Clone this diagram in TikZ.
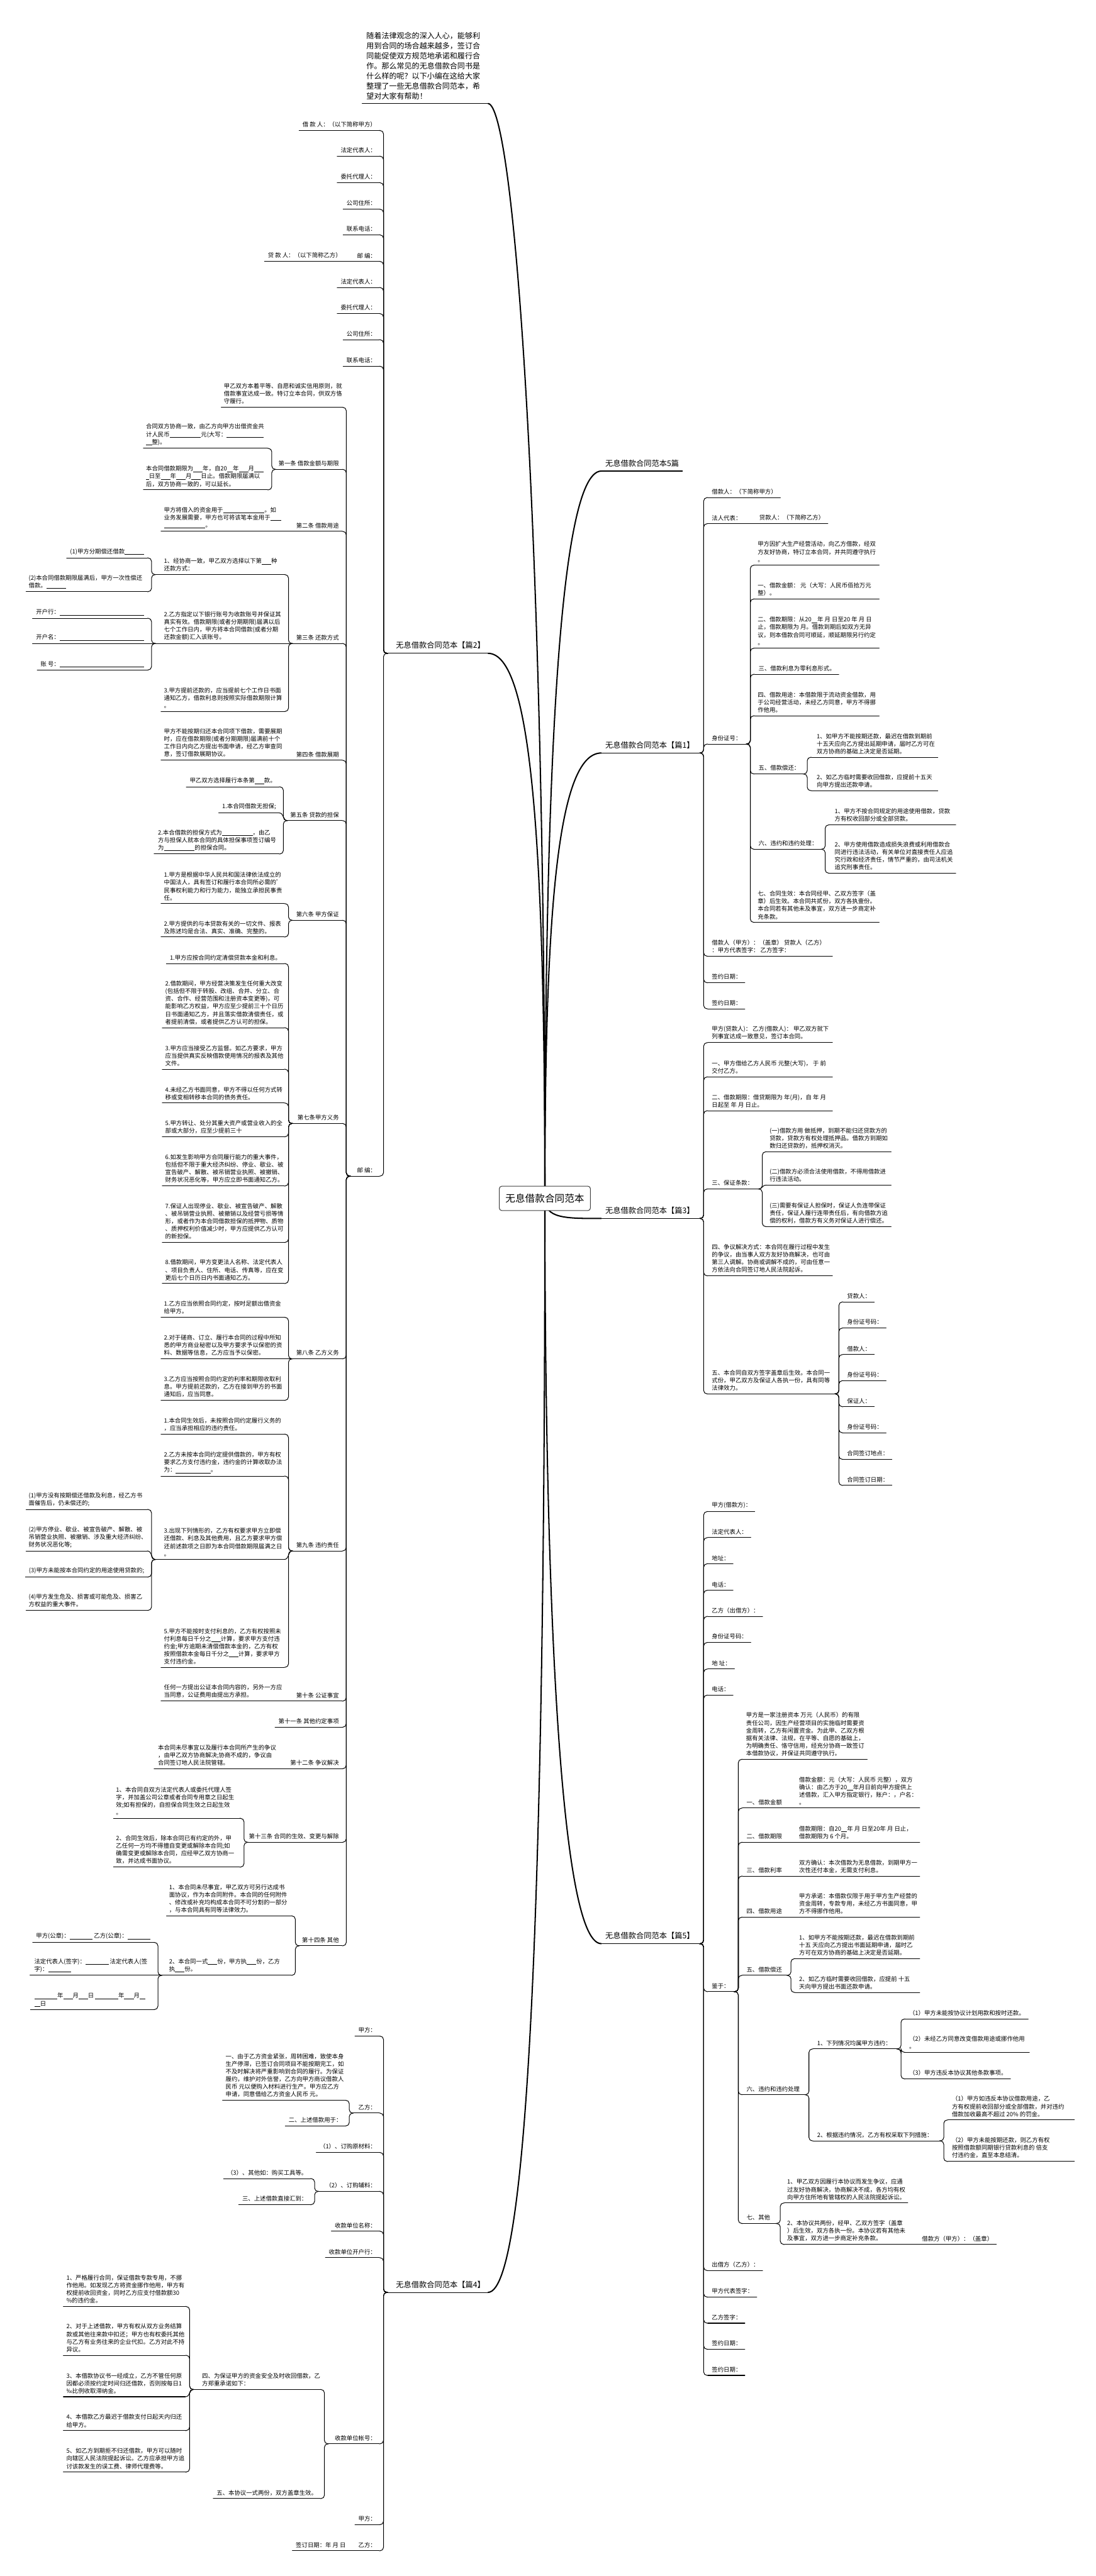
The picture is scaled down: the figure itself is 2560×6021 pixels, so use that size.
\documentclass[tikz,border=0pt]{standalone}
\usepackage{fontspec}
\setmainfont{Noto Sans CJK SC}
\newcommand\blank[1]{\rule[-2bp]{#1}{0.9bp}}
\tikzset{
  txt/.style={font=\fontsize{13.8bp}{17.8bp}\selectfont, inner sep=0pt, align=left, text=black},
  br/.style={font=\fontsize{18bp}{22bp}\selectfont, inner sep=0pt, align=left, yshift=3bp},
  intro/.style={font=\fontsize{17.7bp}{23.6bp}\selectfont, inner sep=0pt, align=left, yshift=2bp},
  ul/.style={line width=1.5bp, line cap=round},
  conn/.style={line width=1.5bp, rounded corners=8bp},
  mainc/.style={line width=3bp},
}
\newcommand\NM[7][txt]{%
  \node[#1,anchor=south west] (#2) at (#6,#5-7) {#7};
  \coordinate (#2-l) at (#3,#5);
  \coordinate (#2-r) at (#4,#5);
  \draw[ul] (#2-l) -- (#2-r);}
\newcommand\LP[6][txt]{%
  \node[#1,anchor=south east] (#2) at (#4-7,#5-7) {#6};
  \coordinate (#2-l) at (#3,#5);
  \coordinate (#2-r) at (#4,#5);
  \draw[ul] (#2-l) -- (#2-r);}
\newcommand\RP[6][txt]{%
  \node[#1,anchor=south west] (#2) at (#3+9,#5-7) {#6};
  \coordinate (#2-l) at (#3,#5);
  \coordinate (#2-r) at (#4,#5);
  \draw[ul] (#2-l) -- (#2-r);}
\newcommand\LL[5][txt]{%
  \node[#1,anchor=south east] (#2) at (#3-7,#4-7) {#5};
  \coordinate (#2-r) at (#3,#4);
  \path (#2.west) ++(-8,0) coordinate (#2-t);
  \coordinate (#2-l) at (#2-t |- #2-r);
  \draw[ul] (#2-l) -- (#2-r);}
\newcommand\RL[5][txt]{%
  \node[#1,anchor=south west] (#2) at (#3+9,#4-7) {#5};
  \coordinate (#2-l) at (#3,#4);
  \path (#2.east) ++(8,0) coordinate (#2-t);
  \coordinate (#2-r) at (#2-t |- #2-l);
  \draw[ul] (#2-l) -- (#2-r);}
\newcommand\LC[2]{\draw[conn] (#1-l) -- ++(-10,0) |- (#2-r);}
\newcommand\RC[2]{\draw[conn] (#1-r) -- ++(10,0) |- (#2-l);}
\newcommand\LS[2]{\draw[ul] (#1-l) .. controls +(-12,0) and +(12,0) .. (#2-r);}
\newcommand\RS[2]{\draw[ul] (#1-r) .. controls +(12,0) and +(-12,0) .. (#2-l);}
\newcommand\LA[2]{\draw[ul] (#1-l) -- (#2-r);}
\newcommand\RA[2]{\draw[ul] (#1-r) -- (#2-l);}
\begin{document}
\begin{tikzpicture}[x=1bp,y=-1bp]
\useasboundingbox (0,0) rectangle (2560,6021);
\fill[white] (0,0) rectangle (2560,6021);

% ---------- intro ----------
\NM[intro]{intro}{846}{1140}{242}{856}{随着法律观念的深入人心，能够利\\用到合同的场合越来越多，签订合\\同能促使双方规范地承诺和履行合\\作。那么常见的无息借款合同书是\\什么样的呢？以下小编在这给大家\\整理了一些无息借款合同范本，希\\望对大家有帮助！}

% ---------- branch labels ----------
\RL[br]{R0}{1405}{1101}{无息借款合同范本5篇}
\RP[br]{P1}{1405}{1634}{1760}{无息借款合同范本【篇1】}
\NM[br]{P2}{906}{1140}{1527}{925}{无息借款合同范本【篇2】}
\RP[br]{P3}{1405}{1634}{2848}{无息借款合同范本【篇3】}
\NM[br]{P4}{906}{1140}{5358}{925}{无息借款合同范本【篇4】}
\RP[br]{P5}{1405}{1634}{4543}{无息借款合同范本【篇5】}

% ---------- root and main curves ----------
\coordinate (rootc) at (1273,2801);
\draw[mainc] (rootc) .. controls (1273,1200) and (1200,242) .. (intro-r);
\draw[mainc] (rootc) .. controls (1273,1900) and (1300,1101) .. (R0-l);
\draw[mainc] (rootc) .. controls (1273,2150) and (1300,1760) .. (P1-l);
\draw[mainc] (rootc) .. controls (1273,1950) and (1240,1527) .. (P2-r);
\draw[mainc] (rootc) .. controls (1273,2848) and (1320,2848) .. (P3-l);
\draw[mainc] (rootc) .. controls (1273,3600) and (1300,4543) .. (P5-l);
\draw[mainc] (rootc) .. controls (1273,4300) and (1240,5358) .. (P4-r);
\node[draw=black!75, line width=1.5bp, rounded corners=6bp, fill=white, minimum width=213bp, minimum height=57bp, inner sep=0pt, font=\fontsize{23bp}{27bp}\selectfont] (root) at (rootc) {无息借款合同范本};

% ================= 篇2 (left top) =================
\LL{a1}{886}{305}{借 款 人：（以下简称甲方）}
\LL{a2}{886}{365}{法定代表人：}
\LL{a3}{886}{427}{委托代理人：}
\LL{a4}{886}{489}{公司住所：}
\LL{a5}{886}{549}{联系电话：}
\LP{a6}{825}{886}{611}{邮 编：}
\LL{a6c}{805}{611}{贷 款 人：（以下简称乙方）}
\LL{a7}{886}{672}{法定代表人：}
\LL{a8}{886}{733}{委托代理人：}
\LL{a9}{886}{794}{公司住所：}
\LL{a10}{886}{856}{联系电话：}
\LP{a11}{819}{886}{2749}{邮 编：}
\LC{P2}{a1}\LC{P2}{a2}\LC{P2}{a3}\LC{P2}{a4}\LC{P2}{a5}\LC{P2}{a6}
\LC{P2}{a7}\LC{P2}{a8}\LC{P2}{a9}\LC{P2}{a10}\LC{P2}{a11}
\LA{a6}{a6c}

\NM{b0}{517}{799}{952}{523}{甲乙双方本着平等、自愿和诚实信用原则，就\\借款事宜达成一致。特订立本合同，供双方恪\\守履行。}
\LP{b1}{645}{799}{1097}{第一条 借款金额与期限}
\NM{c1a}{335}{625}{1048}{341}{合同双方协商一致，由乙方向甲方出借资金共\\计人民币\blank{5.3em}元(大写：\blank{6.3em}\\\blank{1em}整)。}
\NM{c1b}{335}{625}{1145}{341}{本合同借款期限为\blank{1.6em}年，自20\blank{1em}年\blank{1.6em}月\blank{1.6em}\\\blank{0.5em}日至\blank{1.6em}年\blank{1.6em}月\blank{1.6em}日止。借款期限届满以\\后，双方协商一致的，可以延长。}
\LC{b1}{c1a}\LC{b1}{c1b}

\LP{b2}{684}{799}{1242}{第二条 借款用途}
\NM{b2c}{376}{664}{1242}{383}{甲方将借入的资金用于\blank{7em}。如\\业务发展需要，甲方也可将该笔本金用于\blank{1.8em}\\\blank{7em}。}
\LA{b2}{b2c}

\LP{b3}{684}{799}{1504}{第三条 还款方式}
\NM{c3a}{364}{664}{1343}{383}{1、经协商一致，甲乙双方选择以下第\blank{1.6em}种\\还款方式：}
\LL{d1}{344}{1304}{(1)甲方分期偿还借款\blank{3.3em}}
\NM{d2}{61}{344}{1383}{67}{(2)本合同借款期限届满后，甲方一次性偿还\\借款。\blank{3.3em}}
\NM{c3b}{364}{664}{1504}{383}{2.乙方指定以下银行账号为收款账号并保证其\\真实有效。借款期限(或者分期期限)届满以后\\七个工作日内，甲方将本合同借款(或者分期\\还款金额)汇入该账号。}
\LL{d3}{344}{1445}{开户行：\blank{14.3em}}
\LL{d4}{344}{1504}{开户名：\blank{14.3em}}
\LL{d5}{344}{1566}{账 号：\blank{14.3em}}
\NM{c3c}{376}{664}{1663}{383}{3.甲方提前还款的，应当提前七个工作日书面\\通知乙方，借款利息则按照实际借款期限计算\\。}
\LC{b3}{c3a}\LA{b3}{c3b}\LC{b3}{c3c}
\LC{c3a}{d1}\LC{c3a}{d2}\LC{c3b}{d3}\LA{c3b}{d4}\LC{c3b}{d5}

\LP{b4}{684}{799}{1777}{第四条 借款展期}
\NM{b4c}{376}{664}{1777}{383}{甲方不能按期归还本合同项下借款，需要展期\\时，应在借款期限(或者分期期限)届满前十个\\工作日内向乙方提出书面申请，经乙方审查同\\意，签订借款展期协议。}
\LA{b4}{b4c}

\LP{b5}{672}{799}{1918}{第五条 贷款的担保}
\LL{c5a}{652}{1839}{甲乙双方选择履行本条第\blank{1.6em}款。}
\LL{c5b}{652}{1900}{1.本合同借款无担保;}
\NM{c5c}{360}{652}{1996}{369}{2.本合借款的担保方式为\blank{5.2em}，由乙\\方与担保人就本合同的具体担保事项签订编号\\为\blank{5.2em}的担保合同。}
\LC{b5}{c5a}\LS{b5}{c5b}\LC{b5}{c5c}

\LP{b6}{684}{799}{2151}{第六条 甲方保证}
\NM{c6a}{376}{664}{2112}{383}{1.甲方是根据中华人民共和国法律依法成立的\\中国法人，具有签订和履行本合同所必需的'\\民事权利能力和行为能力，能独立承担民事责\\任。}
\NM{c6b}{376}{664}{2190}{383}{2.甲方提供的与本贷款有关的一切文件、报表\\及陈述均是合法、真实、准确、完整的。}
\LC{b6}{c6a}\LC{b6}{c6b}

\LP{b7}{684}{799}{2626}{第七条甲方义务}
\LL{c71}{664}{2252}{1.甲方应按合同约定清偿贷款本金和利息。}
\NM{c72}{379}{664}{2402}{386}{2.借款期间，甲方经营决策发生任何重大改变\\(包括但不限于转股、改组、合并、分立、合\\资、合作、经营范围和注册资本变更等)，可\\能影响乙方权益，甲方应至少提前三十个日历\\日书面通知乙方，并且落实借款清偿责任，或\\者提前清偿，或者提供乙方认可的担保。}
\NM{c73}{379}{664}{2499}{386}{3.甲方应当接受乙方监督。如乙方要求，甲方\\应当提供真实反映借款使用情况的报表及其他\\文件。}
\NM{c74}{379}{664}{2578}{386}{4.未经乙方书面同意，甲方不得以任何方式转\\移或变相转移本合同的债务责任。}
\NM{c75}{379}{664}{2657}{386}{5.甲方转让、处分其重大资产或营业收入的全\\部或大部分，应至少提前三十}
\NM{c76}{379}{664}{2772}{386}{6.如发生影响甲方合同履行能力的重大事件，\\包括但不限于重大经济纠纷、停业、歇业、被\\宣告破产、解散、被吊销营业执照、被撤销、\\财务状况恶化等，甲方应立即书面通知乙方。}
\NM{c77}{379}{664}{2904}{386}{7.保证人出现停业、歇业、被宣告破产、解散\\、被吊销营业执照、被撤销以及经营亏损等情\\形，或者作为本合同借款担保的抵押物、质物\\、质押权利价值减少时，甲方应提供乙方认可\\的新担保。}
\NM{c78}{379}{664}{3000}{386}{8.借款期间，甲方变更法人名称、法定代表人\\、项目负责人、住所、电话、传真等，应在变\\更后七个日历日内书面通知乙方。}
\LC{b7}{c71}\LC{b7}{c72}\LC{b7}{c73}\LC{b7}{c74}\LC{b7}{c75}\LC{b7}{c76}\LC{b7}{c77}\LC{b7}{c78}

\LP{b8}{684}{799}{3176}{第八条 乙方义务}
\NM{c81}{376}{664}{3079}{383}{1.乙方应当依照合同约定，按时足额出借资金\\给甲方。}
\NM{c82}{376}{664}{3176}{383}{2.对于磋商、订立、履行本合同的过程中所知\\悉的甲方商业秘密以及甲方要求予以保密的资\\料、数据等信息，乙方应当予以保密。}
\NM{c83}{376}{664}{3273}{383}{3.乙方应当按照合同约定的利率和期限收取利\\息。甲方提前还款的，乙方在接到甲方的书面\\通知后，应当同意。}
\LC{b8}{c81}\LA{b8}{c82}\LC{b8}{c83}

\LP{b9}{684}{799}{3625}{第九条 违约责任}
\NM{c91}{376}{664}{3352}{383}{1.本合同生效后，未按照合同约定履行义务的\\，应当承担相应的违约责任。}
\NM{c92}{376}{664}{3450}{383}{2.乙方未按本合同约定提供借款的，甲方有权\\要求乙方支付违约金，违约金的计算收取办法\\为：\blank{5.9em}。}
\NM{c93}{364}{664}{3645}{383}{3.出现下列情形的，乙方有权要求甲方立即偿\\还借款、利息及其他费用，且乙方要求甲方偿\\还前述款项之日即为本合同借款期限届满之日\\。}
\NM{d91}{61}{344}{3528}{67}{(1)甲方没有按期偿还借款及利息，经乙方书\\面催告后，仍未偿还的;}
\NM{d92}{61}{344}{3625}{67}{(2)甲方停业、歇业、被宣告破产、解散、被\\吊销营业执照、被撤销、涉及重大经济纠纷、\\财务状况恶化等;}
\LL{d93}{344}{3686}{(3)甲方未能按本合同约定的用途使用贷款的;}
\NM{d94}{61}{344}{3764}{67}{(4)甲方发生危及、损害或可能危及、损害乙\\方权益的重大事件。}
\NM{c95}{376}{664}{3897}{383}{5.甲方不能按时支付利息的，乙方有权按照未\\付利息每日千分之\blank{1.6em}计算，要求甲方支付违\\约金;甲方逾期未清偿借款本金的，乙方有权\\按照借款本金每日千分之\blank{1.6em}计算，要求甲方\\支付违约金。}
\LC{b9}{c91}\LC{b9}{c92}\LS{b9}{c93}\LC{b9}{c95}
\LC{c93}{d91}\LS{c93}{d92}\LC{c93}{d93}\LC{c93}{d94}

\LP{b10}{684}{799}{3976}{第十条 公证事宜}
\NM{b10c}{376}{664}{3976}{383}{任何一方提出公证本合同内容的，另外一方应\\当同意，公证费用由提出方承担。}
\LA{b10}{b10c}
\LL{b11}{799}{4037}{第十一条 其他约定事项}
\LP{b12}{672}{799}{4134}{第十二条 争议解决}
\NM{b12c}{360}{652}{4134}{369}{本合同未尽事宜以及履行本合同所产生的争议\\，由甲乙双方协商解决;协商不成的，争议由\\合同签订地人民法院管辖。}
\LA{b12}{b12c}
\LP{b13}{580}{799}{4306}{第十三条 合同的生效、变更与解除}
\NM{c131}{265}{560}{4250}{271}{1、本合同自双方法定代表人或委托代理人签\\字，并加盖公司公章或者合同专用章之日起生\\效;如有担保的，自担保合同生效之日起生效\\。}
\NM{c132}{265}{560}{4364}{271}{2、合同生效后，除本合同已有约定的外，甲\\乙任何一方均不得擅自变更或解除本合同;如\\确需变更或解除本合同，应经甲乙双方协商一\\致，并达成书面协议。}
\LC{b13}{c131}\LC{b13}{c132}
\LP{b14}{700}{799}{4548}{第十四条 其他}
\NM{c141}{389}{680}{4478}{395}{1、本合同未尽事宜，甲乙双方可另行达成书\\面协议，作为本合同附件。本合同的任何附件\\、修改或补充均构成本合同不可分割的一部分\\，与本合同具有同等法律效力。}
\NM{c142}{379}{680}{4617}{395}{2、本合同一式\blank{1.6em}份，甲方执\blank{1.6em}份，乙方\\执\blank{1.6em}份。}
\LL{d141}{359}{4540}{甲方(公章)：\blank{3.9em} 乙方(公章)：\blank{3.9em}}
\NM{d142}{70}{359}{4617}{80}{法定代表人(签字)：\blank{3.9em} 法定代表人(签\\字)：\blank{3.9em}}
\NM{d143}{71}{359}{4697}{80}{\blank{3.9em}年\blank{1.6em}月\blank{1.6em}日 \blank{3.9em}年\blank{1.6em}月\blank{1em}\\\blank{1em}日}
\LC{b14}{c141}\LC{b14}{c142}
\LC{c142}{d141}\LA{c142}{d142}\LC{c142}{d143}

\LC{a11}{b0}\LC{a11}{b1}\LC{a11}{b2}\LC{a11}{b3}\LC{a11}{b4}\LC{a11}{b5}\LC{a11}{b6}\LC{a11}{b7}
\LC{a11}{b8}\LC{a11}{b9}\LC{a11}{b10}\LC{a11}{b11}\LC{a11}{b12}\LC{a11}{b13}\LC{a11}{b14}

% ================= 篇4 (left bottom) =================
\LL{e1}{886}{4759}{甲方：}
\LP{e2}{826}{886}{4939}{乙方：}
\NM{f1}{520}{806}{4909}{527}{一、由于乙方资金紧张，周转困难，致使本身\\生产停滞，已签订合同项目不能按期完工，如\\不及时解决将严重影响到合同的履行。为保证\\履约，维护对外信誉，乙方向甲方商议借款人\\民币 元以便购入材料进行生产。甲方应乙方\\申请，同意借给乙方资金人民币 元。}
\LL{f2}{806}{4969}{二、上述借款用于：}
\LL{e3}{886}{5031}{（1）、订购原材料：}
\LP{e4}{745}{886}{5122}{（2）、订购辅料：}
\LL{f3}{725}{5092}{（3）、其他如：购买工具等。}
\LL{f4}{725}{5153}{三、上述借款直接汇到：}
\LL{e5}{886}{5215}{收款单位名称：}
\LL{e6}{886}{5277}{收款单位开户行：}
\LP{e7}{768}{886}{5712}{收款单位帐号：}
\NM{f5}{453}{748}{5585}{472}{四、为保证甲方的资金安全及时收回借款，乙\\方郑重承诺如下：}
\NM{g1}{148}{433}{5391}{155}{1、严格履行合同，保证借款专款专用，不挪\\作他用。如发现乙方将资金挪作他用，甲方有\\权提前收回资金，同时乙方应支付借款额30\\\%的违约金。}
\NM{g2}{148}{433}{5505}{155}{2、对于上述借款，甲方有权从双方业务结算\\款或其他往来款中扣还；甲方也有权委托其他\\与乙方有业务往来的企业代扣。乙方对此不持\\异议。}
\NM{g3}{148}{433}{5602}{155}{3、本借款协议书一经成立，乙方不管任何原\\因都必须按约定时间归还借款，否则按每日1\\‰比例收取滞纳金。}
\NM{g4}{148}{433}{5681}{155}{4、本借款乙方最迟于借款支付日起天内归还\\给甲方。}
\NM{g5}{148}{433}{5778}{155}{5、如乙方到期拒不归还借款，甲方可以随时\\向辖区人民法院提起诉讼。乙方应承担甲方追\\讨该款发生的误工费、律师代理费等。}
\LL{f6}{748}{5840}{五、本协议一式两份，双方盖章生效。}
\LL{e8}{886}{5901}{甲方：}
\LP{e9}{835}{886}{5962}{乙方：}
\LL{f7}{815}{5962}{签订日期：年 月 日}
\LC{P4}{e1}\LC{P4}{e2}\LC{P4}{e3}\LC{P4}{e4}\LC{P4}{e5}\LC{P4}{e6}\LC{P4}{e7}\LC{P4}{e8}\LC{P4}{e9}
\LC{e2}{f1}\LC{e2}{f2}\LC{e4}{f3}\LC{e4}{f4}\LC{e7}{f5}\LC{e7}{f6}\LA{e9}{f7}
\LC{f5}{g1}\LC{f5}{g2}\LS{f5}{g3}\LC{f5}{g4}\LC{f5}{g5}

% ================= 篇1 (right) =================
\RL{h1}{1654}{1163}{借款人：（下简称甲方）}
\RP{h2}{1654}{1745}{1224}{法人代表：}
\RL{h2c}{1765}{1224}{贷款人：（下简称乙方）}
\RP{h3}{1654}{1743}{1739}{身份证号：}
\NM{i1}{1763}{2054}{1321}{1770}{甲方因扩大生产经营活动，向乙方借款，经双\\方友好协商，特订立本合同，并共同遵守执行\\。}
\NM{i2}{1763}{2054}{1400}{1770}{一、借款金额： 元（大写：人民币佰拾万元\\整）。}
\NM{i3}{1763}{2054}{1515}{1770}{二、借款期限：从20\blank{1em}年 月 日至20 年 月 日\\止，借款期限为 月。借款到期后如双方无异\\议，则本借款合同可顺延，顺延期限另行约定\\。}
\RL{i4}{1763}{1576}{三、借款利息为零利息形式。}
\NM{i5}{1763}{2054}{1673}{1770}{四、借款用途：本借款限于流动资金借款，用\\于公司经营活动，未经乙方同意，甲方不得挪\\作他用。}
\RP{i6}{1763}{1876}{1809}{五、借款偿还：}
\NM{j1}{1896}{2191}{1770}{1908}{1、如甲方不能按期还款，最迟在借款到期前\\十五天应向乙方提出延期申请，届时乙方可在\\双方协商的基础上决定是否延期。}
\NM{j2}{1896}{2191}{1848}{1908}{2、如乙方临时需要收回借款，应提前十五天\\向甲方提出还款申请。}
\RP{i7}{1763}{1918}{1985}{六、违约和违约处理：}
\NM{j3}{1938}{2233}{1928}{1950}{1、甲方不按合同规定的用途使用借款，贷款\\方有权收回部分或全部贷款。}
\NM{j4}{1938}{2233}{2041}{1950}{2、甲方使用借款造成损失浪费或利用借款合\\同进行违法活动，有关单位对直接责任人应追\\究行政和经济责任，情节严重的，由司法机关\\追究刑事责任。}
\NM{i8}{1763}{2054}{2156}{1770}{七、合同生效：本合同经甲、乙双方签字（盖\\章）后生效。本合同共贰份，双方各执壹份。\\本合同若有其他未及事宜，双方进一步商定补\\充条款。}
\NM{h4}{1654}{1945}{2235}{1663}{借款人（甲方）：（盖章） 贷款人（乙方）\\：甲方代表签字： 乙方签字：}
\RL{h5}{1654}{2297}{签约日期：}
\RL{h6}{1654}{2358}{签约日期：}
\RC{P1}{h1}\RC{P1}{h2}\RC{P1}{h3}\RC{P1}{h4}\RC{P1}{h5}\RC{P1}{h6}
\RA{h2}{h2c}
\RC{h3}{i1}\RC{h3}{i2}\RC{h3}{i3}\RC{h3}{i4}\RC{h3}{i5}\RC{h3}{i6}\RC{h3}{i7}\RC{h3}{i8}
\RC{i6}{j1}\RC{i6}{j2}\RC{i7}{j3}\RC{i7}{j4}

% ================= 篇3 (right) =================
\NM{k1}{1654}{1945}{2437}{1663}{甲方(贷款人)： 乙方(借款人)： 甲乙双方就下\\列事宜达成一致意见，签订本合同。}
\NM{k2}{1654}{1945}{2517}{1663}{一、甲方借给乙方人民币 元整(大写)， 于 前\\交付乙方。}
\NM{k3}{1654}{1945}{2596}{1663}{二、借款期限：借贷期限为 年(月)，自 年 月\\日起至 年 月 日止。}
\RP{k4}{1654}{1771}{2779}{三、保证条款：}
\NM{l1}{1791}{2082}{2692}{1798}{(一)借款方用 做抵押，到期不能归还贷款方的\\贷款，贷款方有权处理抵押品。借款方到期如\\数归还贷款的，抵押权消灭。}
\NM{l2}{1791}{2082}{2770}{1798}{(二)借款方必须合法使用借款，不得用借款进\\行违法活动。}
\NM{l3}{1791}{2082}{2867}{1798}{(三)需要有保证人担保时，保证人负连带保证\\责任，保证人履行连带责任后，有向借款方追\\偿的权利，借款方有义务对保证人进行偿还。}
\NM{k5}{1654}{1945}{2982}{1663}{四、争议解决方式：本合同在履行过程中发生\\的争议，由当事人双方友好协商解决，也可由\\第三人调解。协商或调解不成的，可由任意一\\方依法向合同签订地人民法院起诉。}
\NM{k6}{1654}{1950}{3258}{1663}{五、本合同自双方签字盖章后生效。本合同一\\式份，甲乙双方及保证人各执一份，具有同等\\法律效力。}
\RL{l4}{1970}{3043}{贷款人：}
\RL{l5}{1970}{3104}{身份证号码：}
\RL{l6}{1970}{3166}{借款人：}
\RL{l7}{1970}{3227}{身份证号码：}
\RL{l8}{1970}{3288}{保证人：}
\RL{l9}{1970}{3349}{身份证号码：}
\RL{l10}{1970}{3411}{合同签订地点：}
\RL{l11}{1970}{3472}{合同签订日期：}
\RC{P3}{k1}\RC{P3}{k2}\RC{P3}{k3}\RC{P3}{k4}\RC{P3}{k5}\RC{P3}{k6}
\RC{k4}{l1}\RS{k4}{l2}\RC{k4}{l3}
\RC{k6}{l4}\RC{k6}{l5}\RC{k6}{l6}\RC{k6}{l7}\RC{k6}{l8}\RC{k6}{l9}\RC{k6}{l10}\RC{k6}{l11}

% ================= 篇5 (right) =================
\RL{m1}{1654}{3533}{甲方(借款方)：}
\RL{m2}{1654}{3594}{法定代表人：}
\RL{m3}{1654}{3655}{地址：}
\RL{m4}{1654}{3717}{电话：}
\RL{m5}{1654}{3778}{乙方（出借方）：}
\RL{m6}{1654}{3839}{身份证号码：}
\RL{m7}{1654}{3901}{地 址：}
\RL{m8}{1654}{3962}{电话：}
\RP{m9}{1654}{1715}{4655}{鉴于：}
\NM{n1}{1735}{2026}{4112}{1743}{甲方是一家注册资本 万元（人民币）的有限\\责任公司，因生产经营项目的实施临时需要资\\金周转，乙方有闲置资金。为此甲、乙双方根\\据有关法律、法规，在平等、自愿的基础上，\\为明确责任、恪守信用，经充分协商一致签订\\本借款协议，并保证共同遵守执行。}
\RP{n2}{1735}{1847}{4226}{一、借款金额}
\NM{n2c}{1860}{2149}{4226}{1867}{借款金额：元（大写：人民币 元整），双方\\确认：由乙方于20\blank{1em}年月日前向甲方提供上\\述借款，汇入甲方指定银行，账户：，户名：\\。}
\RP{n3}{1735}{1847}{4306}{二、借款期限}
\NM{n3c}{1860}{2149}{4306}{1867}{借款期限：自20\blank{1em}年 月 日至20年 月 日止，\\借款期限为 6 个月。}
\RP{n4}{1735}{1847}{4385}{三、借款利率}
\NM{n4c}{1860}{2149}{4385}{1867}{双方确认：本次借款为无息借款，到期甲方一\\次性还付本金，无需支付利息。}
\RP{n5}{1735}{1847}{4481}{四、借款用途}
\NM{n5c}{1860}{2149}{4481}{1867}{甲方承诺：本借款仅限于用于甲方生产经营的\\资金周转，专款专用，未经乙方书面同意，甲\\方不得挪作他用。}
\RP{n6}{1735}{1838}{4617}{五、借款偿还}
\NM{o1}{1858}{2149}{4578}{1867}{1、如甲方不能按期还款，最迟在借款到期前\\十五 天应向乙方提出书面延期申请，届时乙\\方可在双方协商的基础上决定是否延期。}
\NM{o2}{1858}{2149}{4657}{1867}{2、如乙方临时需要收回借款，应提前 十五\\天向甲方提出书面还款申请。}
\RP{n7}{1735}{1880}{4896}{六、违约和违约处理}
\RP{o3}{1900}{2095}{4789}{1、下列情况均属甲方违约：}
\RL{p1}{2115}{4719}{（1）甲方未能按协议计划用款和按时还款。}
\NM{p2}{2115}{2405}{4797}{2124}{（2）未经乙方同意改变借款用途或挪作他用\\。}
\RL{p3}{2115}{4859}{（3）甲方违反本协议其他条款事项。}
\RP{o4}{1900}{2195}{5004}{2、根据违约情况，乙方有权采取下列措施：}
\NM{p4}{2215}{2510}{4955}{2224}{（1）甲方如违反本协议借款用途，乙\\方有权提前收回部分或全部借款，并对违约\\借款加收最高不超过 20\% 的罚金。}
\NM{p5}{2215}{2510}{5052}{2224}{（2）甲方未能按期还款，则乙方有权\\按照借款额同期银行贷款利息的 倍支\\付违约金，直至本息结清。}
\RP{n8}{1735}{1813}{5197}{七、其他}
\NM{o5}{1833}{2121}{5149}{1839}{1、甲乙双方因履行本协议而发生争议，应通\\过友好协商解决，协商解决不成，各方均有权\\向甲方住所地有管辖权的人民法院提起诉讼。}
\NM{o6}{1833}{2140}{5246}{1839}{2、本协议共两份，经甲、乙双方签字（盖章\\）后生效，双方各执一份。本协议若有其他未\\及事宜，双方进一步商定补充条款。}
\RL{o6c}{2145}{5246}{借款方（甲方）：（盖章）}
\RL{m10}{1654}{5307}{出借方（乙方）：}
\RL{m11}{1654}{5369}{甲方代表签字：}
\RL{m12}{1654}{5430}{乙方签字：}
\RL{m13}{1654}{5491}{签约日期：}
\RL{m14}{1654}{5552}{签约日期：}
\RC{P5}{m1}\RC{P5}{m2}\RC{P5}{m3}\RC{P5}{m4}\RC{P5}{m5}\RC{P5}{m6}\RC{P5}{m7}\RC{P5}{m8}
\RC{P5}{m9}\RC{P5}{m10}\RC{P5}{m11}\RC{P5}{m12}\RC{P5}{m13}\RC{P5}{m14}
\RC{m9}{n1}\RC{m9}{n2}\RC{m9}{n3}\RC{m9}{n4}\RC{m9}{n5}\RC{m9}{n6}\RC{m9}{n7}\RC{m9}{n8}
\RA{n2}{n2c}\RA{n3}{n3c}\RA{n4}{n4c}\RA{n5}{n5c}
\RC{n6}{o1}\RC{n6}{o2}\RC{n7}{o3}\RC{n7}{o4}
\RC{o3}{p1}\RC{o3}{p2}\RC{o3}{p3}\RC{o4}{p4}\RC{o4}{p5}
\RC{n8}{o5}\RC{n8}{o6}\RA{o6}{o6c}
\end{tikzpicture}
\end{document}
